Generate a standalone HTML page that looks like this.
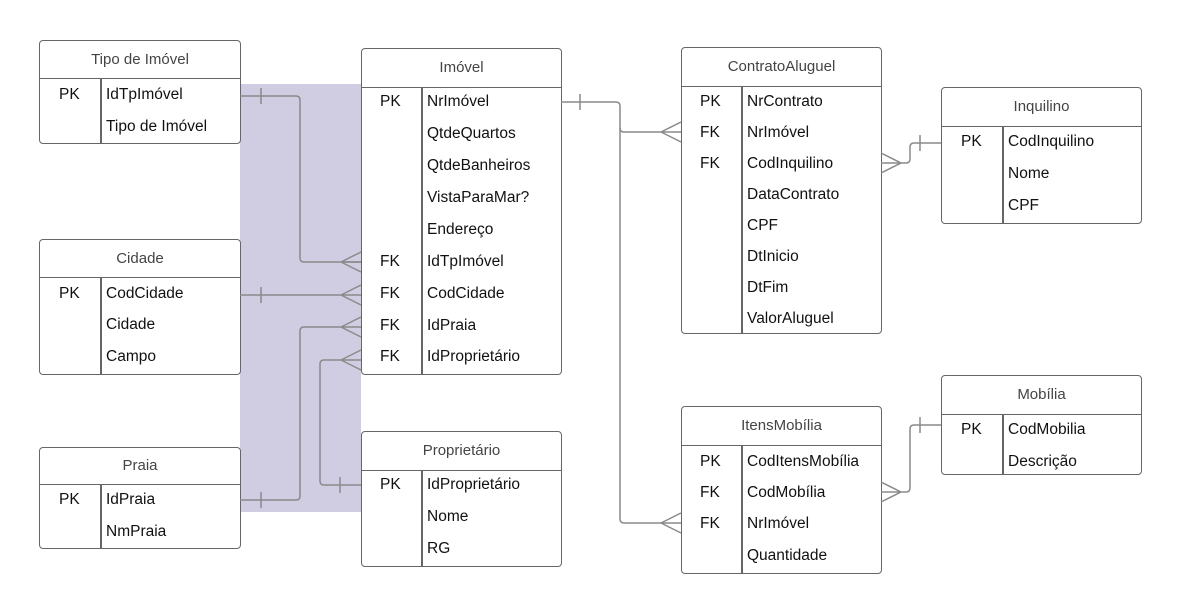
<!DOCTYPE html>
<html><head><meta charset="utf-8"><style>
body{margin:0;width:1182px;height:614px;background:#fff;position:relative;overflow:hidden;font-family:"Liberation Sans",Arial,sans-serif}
.t{position:absolute;border:1.5px solid #666;border-radius:4px;background:#fff;box-sizing:border-box}
.h{position:absolute;left:0;right:0;top:0;border-bottom:1.5px solid #666;text-align:center;color:#444;font-size:15px}
.d{position:absolute;width:1.5px;background:#666;bottom:0}
.r{position:absolute;font-size:15.5px;color:#111;white-space:nowrap}
</style></head><body>
<div style="position:absolute;left:240px;top:84px;width:121px;height:428px;background:#d0cde3"></div>
<svg width="1182" height="614" style="position:absolute;left:0;top:0;z-index:2" fill="none" stroke="#8a8a8a" stroke-width="1.5">
<path d="M240 96 H296 Q300 96 300 100 V258 Q300 262 304 262 H361"/>
<path d="M261 88 V104 M341 262 L361 252 M341 262 L361 262 M341 262 L361 272"/>
<path d="M240 295 H361 M261 287 V303 M341 295 L361 285 M341 295 L361 305"/>
<path d="M240 500 H296 Q300 500 300 496 V331 Q300 327 304 327 H361 M261 492 V508 M341 327 L361 317 M341 327 L361 337"/>
<path d="M361 485 H324 Q320 485 320 481 V364 Q320 360 324 360 H361 M340 477 V493 M341 360 L361 350 M341 360 L361 370"/>
<path d="M561 102 H616 Q620 102 620 106 V519 Q620 523 624 523 H681 M580 94 V110"/>
<path d="M620 128 Q620 132 624 132 H681 M661 132 L681 122 M661 132 L681 142"/>
<path d="M661 523 L681 513 M661 523 L681 533"/>
<path d="M881 163 H906 Q910 163 910 159 V147 Q910 143 914 143 H941 M920 135 V151 M881 153 L901 163 L881 173"/>
<path d="M881 492 H906 Q910 492 910 488 V429 Q910 425 914 425 H941 M920 417 V433 M881 482 L901 492 L881 502"/>
</svg>
<div class="t" style="left:39px;top:40px;width:202px;height:104px"><div class="h" style="height:37px;line-height:37px">Tipo de Imóvel</div><div class="d" style="left:60px;top:37px"></div>
<div class="r" style="left:19px;top:45px">PK</div><div class="r" style="left:66px;top:45px">IdTpImóvel</div><div class="r" style="left:66px;top:77px">Tipo de Imóvel</div></div>
<div class="t" style="left:39px;top:239px;width:202px;height:136px"><div class="h" style="height:37px;line-height:37px">Cidade</div><div class="d" style="left:60px;top:37px"></div>
<div class="r" style="left:19px;top:45px">PK</div><div class="r" style="left:66px;top:45px">CodCidade</div><div class="r" style="left:66px;top:76px">Cidade</div><div class="r" style="left:66px;top:108px">Campo</div></div>
<div class="t" style="left:39px;top:447px;width:202px;height:102px"><div class="h" style="height:36px;line-height:36px">Praia</div><div class="d" style="left:60px;top:36px"></div>
<div class="r" style="left:19px;top:43px">PK</div><div class="r" style="left:66px;top:43px">IdPraia</div><div class="r" style="left:66px;top:75px">NmPraia</div></div>
<div class="t" style="left:361px;top:48px;width:201px;height:327px"><div class="h" style="height:38px;line-height:38px">Imóvel</div><div class="d" style="left:59px;top:38px"></div>
<div class="r" style="left:18px;top:44px">PK</div><div class="r" style="left:65px;top:44px">NrImóvel</div>
<div class="r" style="left:65px;top:76px">QtdeQuartos</div><div class="r" style="left:65px;top:108px">QtdeBanheiros</div><div class="r" style="left:65px;top:140px">VistaParaMar?</div><div class="r" style="left:65px;top:172px">Endereço</div>
<div class="r" style="left:18px;top:204px">FK</div><div class="r" style="left:65px;top:204px">IdTpImóvel</div>
<div class="r" style="left:18px;top:236px">FK</div><div class="r" style="left:65px;top:236px">CodCidade</div>
<div class="r" style="left:18px;top:268px">FK</div><div class="r" style="left:65px;top:268px">IdPraia</div>
<div class="r" style="left:18px;top:299px">FK</div><div class="r" style="left:65px;top:299px">IdProprietário</div></div>
<div class="t" style="left:361px;top:431px;width:201px;height:136px"><div class="h" style="height:38px;line-height:38px">Proprietário</div><div class="d" style="left:59px;top:38px"></div>
<div class="r" style="left:18px;top:44px">PK</div><div class="r" style="left:65px;top:44px">IdProprietário</div><div class="r" style="left:65px;top:76px">Nome</div><div class="r" style="left:65px;top:108px">RG</div></div>
<div class="t" style="left:681px;top:47px;width:201px;height:287px"><div class="h" style="height:38px;line-height:38px">ContratoAluguel</div><div class="d" style="left:59px;top:38px"></div>
<div class="r" style="left:18px;top:45px">PK</div><div class="r" style="left:65px;top:45px">NrContrato</div>
<div class="r" style="left:18px;top:76px">FK</div><div class="r" style="left:65px;top:76px">NrImóvel</div>
<div class="r" style="left:18px;top:107px">FK</div><div class="r" style="left:65px;top:107px">CodInquilino</div>
<div class="r" style="left:65px;top:138px">DataContrato</div><div class="r" style="left:65px;top:169px">CPF</div><div class="r" style="left:65px;top:200px">DtInicio</div><div class="r" style="left:65px;top:231px">DtFim</div><div class="r" style="left:65px;top:262px">ValorAluguel</div></div>
<div class="t" style="left:681px;top:406px;width:201px;height:168px"><div class="h" style="height:38px;line-height:38px">ItensMobília</div><div class="d" style="left:59px;top:38px"></div>
<div class="r" style="left:18px;top:46px">PK</div><div class="r" style="left:65px;top:46px">CodItensMobília</div>
<div class="r" style="left:18px;top:77px">FK</div><div class="r" style="left:65px;top:77px">CodMobília</div>
<div class="r" style="left:18px;top:108px">FK</div><div class="r" style="left:65px;top:108px">NrImóvel</div>
<div class="r" style="left:65px;top:140px">Quantidade</div></div>
<div class="t" style="left:941px;top:87px;width:201px;height:137px"><div class="h" style="height:38px;line-height:38px">Inquilino</div><div class="d" style="left:60px;top:38px"></div>
<div class="r" style="left:19px;top:45px">PK</div><div class="r" style="left:66px;top:45px">CodInquilino</div><div class="r" style="left:66px;top:77px">Nome</div><div class="r" style="left:66px;top:109px">CPF</div></div>
<div class="t" style="left:941px;top:375px;width:201px;height:100px"><div class="h" style="height:38px;line-height:38px">Mobília</div><div class="d" style="left:60px;top:38px"></div>
<div class="r" style="left:19px;top:45px">PK</div><div class="r" style="left:66px;top:45px">CodMobilia</div><div class="r" style="left:66px;top:77px">Descrição</div></div>
</body></html>
